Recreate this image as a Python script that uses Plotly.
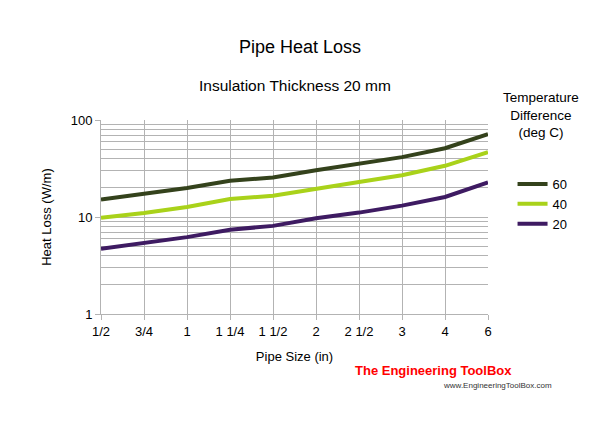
import plotly.graph_objects as go

sizes = ["1/2", "3/4", "1", "1 1/4", "1 1/2", "2", "2 1/2", "3", "4", "6"]
loss_60 = [15.1, 17.2, 19.9, 23.6, 25.5, 30.4, 35.6, 41.4, 51.2, 71.3]
loss_40 = [9.8, 11.0, 12.7, 15.3, 16.6, 19.7, 23.0, 27.0, 33.7, 46.6]
loss_20 = [4.7, 5.4, 6.2, 7.4, 8.1, 9.7, 11.1, 13.1, 16.1, 22.7]
series = [("60", loss_60, "#34421c"), ("40", loss_40, "#a9d21a"), ("20", loss_20, "#3e1b62")]

FONT = "Liberation Sans, Arial, sans-serif"
GRID = "#b3b3b3"

fig = go.Figure()
for name, vals, col in series:
    fig.add_trace(go.Scatter(x=sizes, y=vals, name=name, mode="lines",
                             line=dict(color=col, width=4)))

minor_vals = [m * 10 ** e for e in (0, 1) for m in range(2, 10)]

fig.update_layout(
    width=600, height=426,
    margin=dict(l=101, r=112, t=120, b=112),
    paper_bgcolor="white", plot_bgcolor="white",
    font=dict(family=FONT, size=13, color="black"),
    title=dict(text="Pipe Heat Loss", x=0.5, xanchor="center", y=1 - 47 / 426,
               yanchor="middle", font=dict(size=18)),
    xaxis=dict(type="category", range=[0, 9], showgrid=True, gridcolor=GRID, gridwidth=1,
               showline=True, linecolor=GRID, ticks="outside", ticklen=5, tickcolor=GRID,
               tickfont=dict(size=13), title=dict(text="Pipe Size (in)", font=dict(size=13), standoff=14),
               zeroline=False),
    yaxis=dict(type="log", range=[0, 2], tickvals=[1, 10, 100], ticktext=["1", "10", "100"],
               showgrid=True, gridcolor=GRID, gridwidth=1,
               minor=dict(tickvals=minor_vals, showgrid=True, gridcolor=GRID, gridwidth=1),
               showline=True, linecolor=GRID, ticks="outside", ticklen=5, tickcolor=GRID,
               tickfont=dict(size=13), title=dict(text="Heat Loss (W/m)", font=dict(size=13), standoff=16),
               zeroline=False),
    legend=dict(x=1.035 + 11 / 387, xanchor="left", y=(426 - 112 - 169) / 194, yanchor="top",
                font=dict(size=13), bgcolor="rgba(0,0,0,0)", tracegroupgap=0,
                itemwidth=30, entrywidth=0),
    showlegend=True,
)

fig.add_annotation(text="Insulation Thickness 20 mm", xref="paper", yref="paper",
                   x=0.5, y=(426 - 112 - 85) / 194, xanchor="center", yanchor="middle",
                   showarrow=False, font=dict(size=15.5))
fig.add_annotation(text="Temperature<br>Difference<br>(deg C)", xref="paper", yref="paper",
                   x=(541 - 101) / 387, y=(426 - 112 - 115) / 194, xanchor="center", yanchor="middle",
                   showarrow=False, font=dict(size=13.5))
fig.add_annotation(text="<b>The Engineering ToolBox</b>", xref="paper", yref="paper",
                   x=(353 - 101) / 387, y=(426 - 112 - 370) / 194, xanchor="left", yanchor="middle",
                   showarrow=False, font=dict(size=13, color="#ff0000", family=FONT))
fig.add_annotation(text="www.EngineeringToolBox.com", xref="paper", yref="paper",
                   x=(441 - 101) / 387, y=(426 - 112 - 385) / 194, xanchor="left", yanchor="middle",
                   showarrow=False, font=dict(size=8, color="#333333"))

fig.write_html("out.html")
